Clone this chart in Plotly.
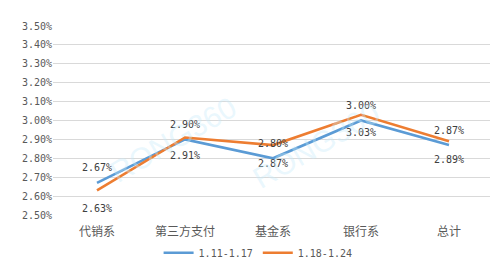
import plotly.graph_objects as go

categories = ["代销系", "第三方支付", "基金系", "银行系", "总计"]
series_a_name = "1.11-1.17"
series_a = [2.67, 2.90, 2.80, 3.00, 2.87]
series_b_name = "1.18-1.24"
series_b = [2.63, 2.91, 2.87, 3.03, 2.89]
y_ticks = [2.50, 2.60, 2.70, 2.80, 2.90, 3.00, 3.10, 3.20, 3.30, 3.40, 3.50]

mono = "DejaVu Sans Mono"
grey = "#595959"

fig = go.Figure()
fig.add_trace(go.Scatter(
    x=categories, y=series_a, name=series_a_name, mode="lines",
    line=dict(color="#5B9BD5", width=2.6),
))
fig.add_trace(go.Scatter(
    x=categories, y=series_b, name=series_b_name, mode="lines",
    line=dict(color="#ED7D31", width=2.6),
))

# data labels: series A above its points, series B below its points
for cat, v in zip(categories, series_a):
    fig.add_annotation(x=cat, y=v, text=f"{v:.2f}%", showarrow=False, yshift=15,
                       font=dict(family=mono, size=10, color="#404040"))
for cat, v in zip(categories, series_b):
    fig.add_annotation(x=cat, y=v, text=f"{v:.2f}%", showarrow=False, yshift=-18,
                       font=dict(family=mono, size=10, color="#404040"))

for (ax, ay) in [(0.11, 0.40), (0.76, 0.37)]:
    fig.add_annotation(
        xref="paper", yref="paper", x=ax, y=ay, text="RONG360", showarrow=False,
        textangle=-30, font=dict(family="Liberation Sans", size=30, color="rgba(200,235,250,0.4)"),
    )

fig.update_layout(
    width=498, height=272,
    margin=dict(l=45, r=13, t=14, b=57),
    paper_bgcolor="white", plot_bgcolor="white",
    showlegend=True,
    legend=dict(orientation="h", x=0.24, xanchor="left", y=-0.2, yanchor="middle",
                font=dict(family=mono, size=10, color=grey), itemwidth=30, tracegroupgap=0),
    xaxis=dict(range=[-0.5, 4.5], showgrid=False, zeroline=False, showline=False, ticks="",
               ticklabelstandoff=8,
               tickfont=dict(family="Noto Sans CJK SC", size=12, color=grey)),
    yaxis=dict(range=[2.50, 3.50], tickvals=y_ticks, ticktext=[f"{v:.2f}%" for v in y_ticks],
               showgrid=True, gridcolor="#D9D9D9", gridwidth=1, zeroline=False, showline=False,
               ticks="", tickfont=dict(family=mono, size=10, color=grey)),
)

fig.write_html("out.html")
